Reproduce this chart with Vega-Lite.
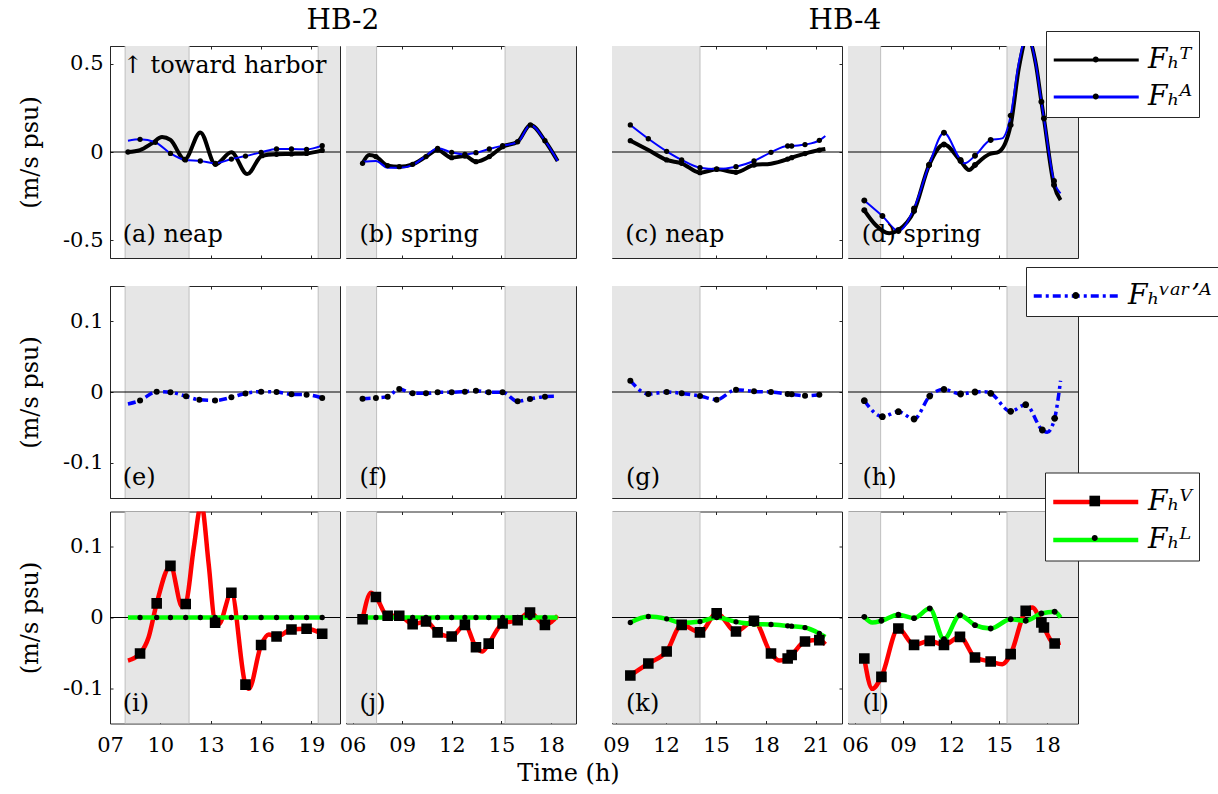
{
"$schema": "https://vega.github.io/schema/vega-lite/v6.json",
"padding": {"left": 18, "top": 6, "right": 0, "bottom": 0},
"datasets": {
"shade": [{"c":"a","t0":7.9,"t1":11.71},{"c":"a","t0":19.4,"t1":20.7},{"c":"b","t0":5.6,"t1":7.45},{"c":"b","t0":15.22,"t1":19.51},{"c":"c","t0":8.76,"t1":14.04},{"c":"d","t0":5.56,"t1":7.6},{"c":"d","t0":15.5,"t1":19.94}],
"edges": [{"c":"a","t":7.9},{"c":"a","t":11.71},{"c":"a","t":19.4},{"c":"b","t":7.45},{"c":"b","t":15.22},{"c":"c","t":14.04},{"c":"d","t":7.6},{"c":"d","t":15.5}],
"d": [
{"p":"a","s":"T","t":8.07,"v":0.0,"m":1},{"p":"a","s":"T","t":8.79,"v":0.011,"m":0},{"p":"a","s":"T","t":9.5,"v":0.049,"m":0},{"p":"a","s":"T","t":10.1,"v":0.085,"m":0},{"p":"a","s":"T","t":10.6,"v":0.068,"m":0},{"p":"a","s":"T","t":11.45,"v":-0.042,"m":1},{"p":"a","s":"T","t":12.38,"v":0.111,"m":0},{"p":"a","s":"T","t":13.28,"v":-0.07,"m":1},{"p":"a","s":"T","t":14.23,"v":-0.002,"m":0},{"p":"a","s":"T","t":15.17,"v":-0.125,"m":0},{"p":"a","s":"T","t":16.06,"v":-0.021,"m":1},{"p":"a","s":"T","t":16.92,"v":-0.013,"m":1},{"p":"a","s":"T","t":17.81,"v":-0.011,"m":1},{"p":"a","s":"T","t":18.71,"v":-0.008,"m":1},{"p":"a","s":"T","t":19.64,"v":0.009,"m":1},
{"p":"a","s":"A","t":8.07,"v":0.064,"m":0},{"p":"a","s":"A","t":8.79,"v":0.072,"m":1},{"p":"a","s":"A","t":9.7,"v":0.055,"m":1},{"p":"a","s":"A","t":10.6,"v":-0.008,"m":1},{"p":"a","s":"A","t":11.49,"v":-0.045,"m":1},{"p":"a","s":"A","t":12.38,"v":-0.051,"m":1},{"p":"a","s":"A","t":13.28,"v":-0.064,"m":1},{"p":"a","s":"A","t":14.23,"v":-0.04,"m":1},{"p":"a","s":"A","t":15.07,"v":-0.023,"m":1},{"p":"a","s":"A","t":16.0,"v":-0.002,"m":1},{"p":"a","s":"A","t":16.92,"v":0.017,"m":1},{"p":"a","s":"A","t":17.81,"v":0.017,"m":1},{"p":"a","s":"A","t":18.71,"v":0.015,"m":1},{"p":"a","s":"A","t":19.64,"v":0.036,"m":1},
{"p":"b","s":"T","t":6.6,"v":-0.064,"m":1},{"p":"b","s":"T","t":7.0,"v":-0.017,"m":0},{"p":"b","s":"T","t":7.41,"v":-0.026,"m":1},{"p":"b","s":"T","t":8.12,"v":-0.077,"m":1},{"p":"b","s":"T","t":8.82,"v":-0.083,"m":1},{"p":"b","s":"T","t":9.63,"v":-0.07,"m":1},{"p":"b","s":"T","t":10.44,"v":-0.026,"m":1},{"p":"b","s":"T","t":11.14,"v":0.011,"m":1},{"p":"b","s":"T","t":11.99,"v":-0.032,"m":1},{"p":"b","s":"T","t":12.79,"v":-0.023,"m":1},{"p":"b","s":"T","t":13.46,"v":-0.055,"m":1},{"p":"b","s":"T","t":14.27,"v":-0.026,"m":1},{"p":"b","s":"T","t":15.07,"v":0.03,"m":1},{"p":"b","s":"T","t":15.98,"v":0.058,"m":1},{"p":"b","s":"T","t":16.75,"v":0.153,"m":1},{"p":"b","s":"T","t":17.63,"v":0.064,"m":1},{"p":"b","s":"T","t":18.4,"v":-0.051,"m":0},
{"p":"b","s":"A","t":6.6,"v":-0.055,"m":0},{"p":"b","s":"A","t":7.41,"v":-0.051,"m":0},{"p":"b","s":"A","t":8.12,"v":-0.089,"m":0},{"p":"b","s":"A","t":8.82,"v":-0.089,"m":0},{"p":"b","s":"A","t":9.63,"v":-0.074,"m":0},{"p":"b","s":"A","t":10.44,"v":-0.021,"m":0},{"p":"b","s":"A","t":11.14,"v":0.021,"m":1},{"p":"b","s":"A","t":11.99,"v":-0.002,"m":1},{"p":"b","s":"A","t":12.79,"v":-0.013,"m":1},{"p":"b","s":"A","t":13.46,"v":-0.004,"m":1},{"p":"b","s":"A","t":14.27,"v":0.017,"m":1},{"p":"b","s":"A","t":15.07,"v":0.036,"m":1},{"p":"b","s":"A","t":15.98,"v":0.055,"m":0},{"p":"b","s":"A","t":16.75,"v":0.153,"m":0},{"p":"b","s":"A","t":17.63,"v":0.064,"m":0},{"p":"b","s":"A","t":18.4,"v":-0.051,"m":0},
{"p":"c","s":"T","t":9.86,"v":0.064,"m":1},{"p":"c","s":"T","t":10.94,"v":0.011,"m":0},{"p":"c","s":"T","t":12.04,"v":-0.045,"m":1},{"p":"c","s":"T","t":12.94,"v":-0.064,"m":1},{"p":"c","s":"T","t":14.04,"v":-0.117,"m":1},{"p":"c","s":"T","t":15.04,"v":-0.098,"m":1},{"p":"c","s":"T","t":16.2,"v":-0.115,"m":1},{"p":"c","s":"T","t":17.28,"v":-0.074,"m":1},{"p":"c","s":"T","t":18.3,"v":-0.066,"m":0},{"p":"c","s":"T","t":19.3,"v":-0.04,"m":1},{"p":"c","s":"T","t":19.54,"v":-0.032,"m":1},{"p":"c","s":"T","t":20.34,"v":-0.009,"m":1},{"p":"c","s":"T","t":21.2,"v":0.011,"m":1},{"p":"c","s":"T","t":21.56,"v":0.017,"m":0},
{"p":"c","s":"A","t":9.86,"v":0.153,"m":1},{"p":"c","s":"A","t":10.94,"v":0.075,"m":1},{"p":"c","s":"A","t":12.04,"v":0.004,"m":1},{"p":"c","s":"A","t":12.94,"v":-0.045,"m":1},{"p":"c","s":"A","t":14.04,"v":-0.089,"m":1},{"p":"c","s":"A","t":15.04,"v":-0.096,"m":1},{"p":"c","s":"A","t":16.2,"v":-0.083,"m":1},{"p":"c","s":"A","t":17.28,"v":-0.051,"m":1},{"p":"c","s":"A","t":18.3,"v":-0.002,"m":1},{"p":"c","s":"A","t":19.3,"v":0.034,"m":1},{"p":"c","s":"A","t":19.54,"v":0.034,"m":1},{"p":"c","s":"A","t":20.34,"v":0.042,"m":1},{"p":"c","s":"A","t":21.2,"v":0.066,"m":1},{"p":"c","s":"A","t":21.56,"v":0.091,"m":0},
{"p":"d","s":"T","t":6.58,"v":-0.33,"m":1},{"p":"d","s":"T","t":7.29,"v":-0.413,"m":0},{"p":"d","s":"T","t":8.13,"v":-0.46,"m":0},{"p":"d","s":"T","t":8.71,"v":-0.442,"m":1},{"p":"d","s":"T","t":9.69,"v":-0.334,"m":1},{"p":"d","s":"T","t":10.63,"v":-0.074,"m":1},{"p":"d","s":"T","t":11.56,"v":0.043,"m":1},{"p":"d","s":"T","t":12.6,"v":-0.051,"m":1},{"p":"d","s":"T","t":13.13,"v":-0.102,"m":0},{"p":"d","s":"T","t":13.5,"v":-0.074,"m":1},{"p":"d","s":"T","t":14.38,"v":-0.013,"m":0},{"p":"d","s":"T","t":15.0,"v":0.002,"m":0},{"p":"d","s":"T","t":15.73,"v":0.153,"m":1},{"p":"d","s":"T","t":16.25,"v":0.48,"m":0},{"p":"d","s":"T","t":16.77,"v":0.65,"m":0},{"p":"d","s":"T","t":17.3,"v":0.5,"m":0},{"p":"d","s":"T","t":17.65,"v":0.285,"m":1},{"p":"d","s":"T","t":17.81,"v":0.19,"m":1},{"p":"d","s":"T","t":18.44,"v":-0.187,"m":1},{"p":"d","s":"T","t":18.85,"v":-0.272,"m":0},
{"p":"d","s":"A","t":6.58,"v":-0.274,"m":1},{"p":"d","s":"A","t":7.71,"v":-0.362,"m":1},{"p":"d","s":"A","t":8.71,"v":-0.447,"m":1},{"p":"d","s":"A","t":9.69,"v":-0.319,"m":1},{"p":"d","s":"A","t":10.63,"v":-0.074,"m":1},{"p":"d","s":"A","t":11.56,"v":0.109,"m":1},{"p":"d","s":"A","t":12.6,"v":-0.045,"m":1},{"p":"d","s":"A","t":12.85,"v":-0.064,"m":0},{"p":"d","s":"A","t":13.5,"v":-0.021,"m":1},{"p":"d","s":"A","t":14.48,"v":0.068,"m":1},{"p":"d","s":"A","t":15.2,"v":0.077,"m":0},{"p":"d","s":"A","t":15.73,"v":0.206,"m":1},{"p":"d","s":"A","t":16.25,"v":0.51,"m":0},{"p":"d","s":"A","t":16.77,"v":0.66,"m":0},{"p":"d","s":"A","t":17.3,"v":0.5,"m":0},{"p":"d","s":"A","t":17.65,"v":0.285,"m":0},{"p":"d","s":"A","t":17.81,"v":0.19,"m":0},{"p":"d","s":"A","t":18.44,"v":-0.164,"m":1},{"p":"d","s":"A","t":18.85,"v":-0.234,"m":0},
{"p":"e","s":"varA","t":8.07,"v":-0.017,"m":0},{"p":"e","s":"varA","t":8.79,"v":-0.012,"m":1},{"p":"e","s":"varA","t":9.78,"v":0.0005,"m":1},{"p":"e","s":"varA","t":10.6,"v":-0.0005,"m":1},{"p":"e","s":"varA","t":11.53,"v":-0.006,"m":1},{"p":"e","s":"varA","t":12.32,"v":-0.011,"m":1},{"p":"e","s":"varA","t":13.26,"v":-0.012,"m":1},{"p":"e","s":"varA","t":14.23,"v":-0.0075,"m":1},{"p":"e","s":"varA","t":15.07,"v":-0.002,"m":1},{"p":"e","s":"varA","t":16.0,"v":0.0005,"m":1},{"p":"e","s":"varA","t":16.92,"v":0.0,"m":1},{"p":"e","s":"varA","t":17.81,"v":-0.0033,"m":1},{"p":"e","s":"varA","t":18.71,"v":-0.0038,"m":1},{"p":"e","s":"varA","t":19.64,"v":-0.0085,"m":1},
{"p":"f","s":"varA","t":6.6,"v":-0.0094,"m":1},{"p":"f","s":"varA","t":7.41,"v":-0.0085,"m":1},{"p":"f","s":"varA","t":8.12,"v":-0.0066,"m":1},{"p":"f","s":"varA","t":8.82,"v":0.0042,"m":1},{"p":"f","s":"varA","t":9.63,"v":-0.0019,"m":1},{"p":"f","s":"varA","t":10.44,"v":-0.0019,"m":1},{"p":"f","s":"varA","t":11.14,"v":-0.0005,"m":1},{"p":"f","s":"varA","t":11.99,"v":-0.0005,"m":1},{"p":"f","s":"varA","t":12.79,"v":0.0005,"m":1},{"p":"f","s":"varA","t":13.46,"v":0.0019,"m":1},{"p":"f","s":"varA","t":14.23,"v":-0.0005,"m":1},{"p":"f","s":"varA","t":15.07,"v":-0.0005,"m":1},{"p":"f","s":"varA","t":15.98,"v":-0.0132,"m":1},{"p":"f","s":"varA","t":16.73,"v":-0.0099,"m":1},{"p":"f","s":"varA","t":17.63,"v":-0.0066,"m":1},{"p":"f","s":"varA","t":18.2,"v":-0.0061,"m":0},
{"p":"g","s":"varA","t":9.86,"v":0.016,"m":1},{"p":"g","s":"varA","t":10.94,"v":-0.0028,"m":1},{"p":"g","s":"varA","t":12.04,"v":0.0,"m":1},{"p":"g","s":"varA","t":12.94,"v":-0.0019,"m":1},{"p":"g","s":"varA","t":14.04,"v":-0.0057,"m":1},{"p":"g","s":"varA","t":15.04,"v":-0.0108,"m":1},{"p":"g","s":"varA","t":16.2,"v":0.0033,"m":1},{"p":"g","s":"varA","t":17.28,"v":0.0009,"m":1},{"p":"g","s":"varA","t":18.3,"v":0.0,"m":1},{"p":"g","s":"varA","t":19.3,"v":-0.0028,"m":1},{"p":"g","s":"varA","t":19.54,"v":-0.0033,"m":1},{"p":"g","s":"varA","t":20.34,"v":-0.0052,"m":1},{"p":"g","s":"varA","t":21.2,"v":-0.0038,"m":1},
{"p":"h","s":"varA","t":6.58,"v":-0.0123,"m":1},{"p":"h","s":"varA","t":7.71,"v":-0.0349,"m":1},{"p":"h","s":"varA","t":8.71,"v":-0.0278,"m":1},{"p":"h","s":"varA","t":9.69,"v":-0.0382,"m":1},{"p":"h","s":"varA","t":10.67,"v":-0.0057,"m":1},{"p":"h","s":"varA","t":11.56,"v":0.0038,"m":1},{"p":"h","s":"varA","t":12.6,"v":-0.0028,"m":1},{"p":"h","s":"varA","t":13.5,"v":0.0,"m":1},{"p":"h","s":"varA","t":14.1,"v":0.0005,"m":0},{"p":"h","s":"varA","t":14.48,"v":-0.0019,"m":1},{"p":"h","s":"varA","t":15.73,"v":-0.0274,"m":1},{"p":"h","s":"varA","t":16.67,"v":-0.0179,"m":1},{"p":"h","s":"varA","t":17.71,"v":-0.0538,"m":1},{"p":"h","s":"varA","t":18.02,"v":-0.057,"m":0},{"p":"h","s":"varA","t":18.48,"v":-0.0373,"m":1},{"p":"h","s":"varA","t":18.85,"v":0.016,"m":0},
{"p":"i","s":"V","t":8.07,"v":-0.061,"m":0},{"p":"i","s":"V","t":8.79,"v":-0.051,"m":1},{"p":"i","s":"V","t":9.3,"v":-0.028,"m":0},{"p":"i","s":"V","t":9.78,"v":0.02,"m":1},{"p":"i","s":"V","t":10.6,"v":0.073,"m":1},{"p":"i","s":"V","t":11.3,"v":0.015,"m":0},{"p":"i","s":"V","t":11.51,"v":0.019,"m":1},{"p":"i","s":"V","t":11.99,"v":0.099,"m":0},{"p":"i","s":"V","t":12.44,"v":0.16,"m":0},{"p":"i","s":"V","t":12.88,"v":0.075,"m":0},{"p":"i","s":"V","t":13.26,"v":-0.0075,"m":1},{"p":"i","s":"V","t":13.48,"v":-0.0094,"m":0},{"p":"i","s":"V","t":14.23,"v":0.035,"m":1},{"p":"i","s":"V","t":15.07,"v":-0.095,"m":1},{"p":"i","s":"V","t":15.27,"v":-0.101,"m":0},{"p":"i","s":"V","t":16.0,"v":-0.039,"m":1},{"p":"i","s":"V","t":16.46,"v":-0.024,"m":0},{"p":"i","s":"V","t":16.92,"v":-0.027,"m":1},{"p":"i","s":"V","t":17.81,"v":-0.017,"m":1},{"p":"i","s":"V","t":18.71,"v":-0.016,"m":1},{"p":"i","s":"V","t":19.64,"v":-0.023,"m":1},
{"p":"i","s":"L","t":8.07,"v":0.0,"m":0},{"p":"i","s":"L","t":8.79,"v":0.0,"m":1},{"p":"i","s":"L","t":9.78,"v":0.0,"m":1},{"p":"i","s":"L","t":10.6,"v":0.0,"m":1},{"p":"i","s":"L","t":11.51,"v":0.0,"m":1},{"p":"i","s":"L","t":12.38,"v":0.0,"m":1},{"p":"i","s":"L","t":13.26,"v":0.0,"m":1},{"p":"i","s":"L","t":14.23,"v":0.0,"m":1},{"p":"i","s":"L","t":15.07,"v":0.0,"m":1},{"p":"i","s":"L","t":16.0,"v":0.0,"m":1},{"p":"i","s":"L","t":16.92,"v":0.0,"m":1},{"p":"i","s":"L","t":17.81,"v":0.0,"m":1},{"p":"i","s":"L","t":18.71,"v":0.0,"m":1},{"p":"i","s":"L","t":19.64,"v":0.0,"m":1},
{"p":"j","s":"V","t":6.6,"v":-0.0024,"m":1},{"p":"j","s":"V","t":7.11,"v":0.035,"m":0},{"p":"j","s":"V","t":7.41,"v":0.029,"m":1},{"p":"j","s":"V","t":8.12,"v":0.0024,"m":1},{"p":"j","s":"V","t":8.82,"v":0.0024,"m":1},{"p":"j","s":"V","t":9.63,"v":-0.0094,"m":1},{"p":"j","s":"V","t":10.44,"v":-0.0057,"m":1},{"p":"j","s":"V","t":11.14,"v":-0.021,"m":1},{"p":"j","s":"V","t":11.99,"v":-0.027,"m":1},{"p":"j","s":"V","t":12.79,"v":-0.0104,"m":1},{"p":"j","s":"V","t":13.46,"v":-0.042,"m":1},{"p":"j","s":"V","t":13.86,"v":-0.048,"m":0},{"p":"j","s":"V","t":14.23,"v":-0.037,"m":1},{"p":"j","s":"V","t":15.07,"v":-0.0085,"m":1},{"p":"j","s":"V","t":15.98,"v":-0.0038,"m":1},{"p":"j","s":"V","t":16.73,"v":0.0071,"m":1},{"p":"j","s":"V","t":17.63,"v":-0.0104,"m":1},{"p":"j","s":"V","t":18.4,"v":0.0024,"m":0},
{"p":"j","s":"L","t":6.6,"v":0.0,"m":1},{"p":"j","s":"L","t":7.41,"v":0.0,"m":1},{"p":"j","s":"L","t":8.12,"v":0.0,"m":1},{"p":"j","s":"L","t":8.82,"v":0.0,"m":1},{"p":"j","s":"L","t":9.63,"v":0.0,"m":1},{"p":"j","s":"L","t":10.44,"v":0.0,"m":1},{"p":"j","s":"L","t":11.14,"v":0.0,"m":1},{"p":"j","s":"L","t":11.99,"v":0.0,"m":1},{"p":"j","s":"L","t":12.79,"v":0.0,"m":1},{"p":"j","s":"L","t":13.46,"v":0.0,"m":1},{"p":"j","s":"L","t":14.23,"v":0.0,"m":1},{"p":"j","s":"L","t":15.07,"v":0.0,"m":1},{"p":"j","s":"L","t":15.98,"v":0.0,"m":1},{"p":"j","s":"L","t":16.73,"v":0.0,"m":1},{"p":"j","s":"L","t":17.63,"v":0.0,"m":1},{"p":"j","s":"L","t":18.4,"v":0.0,"m":0},
{"p":"k","s":"V","t":9.86,"v":-0.082,"m":1},{"p":"k","s":"V","t":10.94,"v":-0.065,"m":1},{"p":"k","s":"V","t":12.04,"v":-0.048,"m":1},{"p":"k","s":"V","t":12.94,"v":-0.0104,"m":1},{"p":"k","s":"V","t":14.04,"v":-0.021,"m":1},{"p":"k","s":"V","t":15.04,"v":0.0061,"m":1},{"p":"k","s":"V","t":16.2,"v":-0.0198,"m":1},{"p":"k","s":"V","t":17.28,"v":-0.0047,"m":1},{"p":"k","s":"V","t":18.3,"v":-0.051,"m":1},{"p":"k","s":"V","t":18.8,"v":-0.061,"m":0},{"p":"k","s":"V","t":19.3,"v":-0.058,"m":1},{"p":"k","s":"V","t":19.54,"v":-0.053,"m":1},{"p":"k","s":"V","t":20.34,"v":-0.034,"m":1},{"p":"k","s":"V","t":21.2,"v":-0.032,"m":1},{"p":"k","s":"V","t":21.56,"v":-0.038,"m":0},
{"p":"k","s":"L","t":9.86,"v":-0.0071,"m":1},{"p":"k","s":"L","t":10.94,"v":0.0014,"m":1},{"p":"k","s":"L","t":12.04,"v":-0.0019,"m":1},{"p":"k","s":"L","t":12.94,"v":-0.0075,"m":1},{"p":"k","s":"L","t":14.04,"v":-0.0057,"m":1},{"p":"k","s":"L","t":15.04,"v":0.0,"m":1},{"p":"k","s":"L","t":16.2,"v":-0.0061,"m":1},{"p":"k","s":"L","t":17.28,"v":-0.0094,"m":1},{"p":"k","s":"L","t":18.3,"v":-0.0099,"m":1},{"p":"k","s":"L","t":19.3,"v":-0.0118,"m":1},{"p":"k","s":"L","t":19.54,"v":-0.0123,"m":1},{"p":"k","s":"L","t":20.34,"v":-0.0142,"m":1},{"p":"k","s":"L","t":21.2,"v":-0.0226,"m":1},{"p":"k","s":"L","t":21.56,"v":-0.0274,"m":0},
{"p":"l","s":"V","t":6.58,"v":-0.058,"m":1},{"p":"l","s":"V","t":7.08,"v":-0.101,"m":0},{"p":"l","s":"V","t":7.65,"v":-0.084,"m":1},{"p":"l","s":"V","t":8.71,"v":-0.0156,"m":1},{"p":"l","s":"V","t":9.69,"v":-0.0387,"m":1},{"p":"l","s":"V","t":10.67,"v":-0.033,"m":1},{"p":"l","s":"V","t":11.56,"v":-0.0387,"m":1},{"p":"l","s":"V","t":12.56,"v":-0.0274,"m":1},{"p":"l","s":"V","t":13.5,"v":-0.0566,"m":1},{"p":"l","s":"V","t":14.48,"v":-0.0623,"m":1},{"p":"l","s":"V","t":15.21,"v":-0.066,"m":0},{"p":"l","s":"V","t":15.73,"v":-0.0519,"m":1},{"p":"l","s":"V","t":16.67,"v":0.0094,"m":1},{"p":"l","s":"V","t":17.08,"v":0.0142,"m":0},{"p":"l","s":"V","t":17.65,"v":-0.0071,"m":1},{"p":"l","s":"V","t":17.81,"v":-0.0142,"m":1},{"p":"l","s":"V","t":18.48,"v":-0.0368,"m":1},{"p":"l","s":"V","t":18.85,"v":-0.0354,"m":0},
{"p":"l","s":"L","t":6.58,"v":0.0009,"m":1},{"p":"l","s":"L","t":7.08,"v":-0.0071,"m":0},{"p":"l","s":"L","t":7.65,"v":-0.0047,"m":1},{"p":"l","s":"L","t":8.71,"v":0.0038,"m":1},{"p":"l","s":"L","t":9.69,"v":-0.0009,"m":1},{"p":"l","s":"L","t":10.67,"v":0.0127,"m":1},{"p":"l","s":"L","t":11.56,"v":-0.0307,"m":1},{"p":"l","s":"L","t":12.56,"v":0.0033,"m":1},{"p":"l","s":"L","t":13.5,"v":-0.0108,"m":1},{"p":"l","s":"L","t":14.48,"v":-0.0156,"m":1},{"p":"l","s":"L","t":15.73,"v":-0.0024,"m":1},{"p":"l","s":"L","t":16.67,"v":-0.0047,"m":1},{"p":"l","s":"L","t":17.65,"v":0.0057,"m":1},{"p":"l","s":"L","t":18.48,"v":0.008,"m":1},{"p":"l","s":"L","t":18.85,"v":0.0,"m":0}
]
},
"title": {"text": "Time (h)", "orient": "bottom", "anchor": "middle", "dx": -50, "fontSize": 24, "offset": 6},
"columns": 5,
"spacing": {"row": 13.5, "column": 6},
"bounds": "flush",
"resolve": {"scale": {"color": "independent", "shape": "independent"}, "legend": {"color": "independent", "shape": "independent"}},
"concat": [
{"width": 230, "height": 212, "title": {"text": "HB-2", "anchor": "end", "frame": "group", "align": "center", "dx": 3, "offset": 11, "fontSize": 28}, "resolve": {"axis": {"x": "independent", "y": "independent"}}, "layer": [
{"data": {"name": "shade"}, "transform": [{"filter": "datum.c=='a'"}], "mark": {"type": "rect", "color": "#e6e6e6", "clip": true}, "encoding": {"x": {"field": "t0", "type": "quantitative", "scale": {"domain": [7, 20.7], "nice": false, "zero": false}, "axis": {"orient": "bottom", "values": [7,10,13,16,19], "labels": false, "title": null}}, "x2": {"field": "t1"}}},
{"data": {"name": "edges"}, "transform": [{"filter": "datum.c=='a'"}], "mark": {"type": "rule", "color": "#bfbfbf", "strokeWidth": 1}, "encoding": {"x": {"field": "t", "type": "quantitative", "axis": null}}},
{"data": {"values": [{}]}, "mark": {"type": "rule", "color": "black", "strokeWidth": 1}, "encoding": {"y": {"datum": 0, "type": "quantitative", "scale": {"domain": [-0.6, 0.6], "nice": false, "zero": false}, "axis": {"orient": "left", "values": [-0.5, 0, 0.5], "title": "(m/s psu)", "labelExpr": "toString(datum.value)"}}}},
{"data": {"name": "d"}, "transform": [{"filter": "datum.p=='a' && datum.s=='T'"}], "mark": {"type": "line", "interpolate": "monotone", "clip": true, "color": "#000000", "strokeWidth": 4}, "encoding": {"x": {"field": "t", "type": "quantitative", "axis": {"orient": "top", "values": [7,10,13,16,19], "title": null}}, "y": {"field": "v", "type": "quantitative", "axis": {"orient": "right", "values": [-0.5, 0, 0.5], "title": null}}}},
{"data": {"name": "d"}, "transform": [{"filter": "datum.p=='a' && datum.s=='A'"}], "mark": {"type": "line", "interpolate": "monotone", "clip": true, "color": "#0000ff", "strokeWidth": 2}, "encoding": {"x": {"field": "t", "type": "quantitative", "axis": null}, "y": {"field": "v", "type": "quantitative", "axis": null}}},
{"data": {"name": "d"}, "transform": [{"filter": "datum.p=='a' && datum.m==1"}], "mark": {"type": "circle", "color": "black", "size": 28, "opacity": 1, "clip": true}, "encoding": {"x": {"field": "t", "type": "quantitative", "axis": null}, "y": {"field": "v", "type": "quantitative", "axis": null}}},
{"data": {"values": [{}]}, "mark": {"type": "text", "text": "(a) neap", "align": "left", "baseline": "middle"}, "encoding": {"x": {"datum": 7.76, "type": "quantitative", "axis": null}, "y": {"datum": -0.47, "type": "quantitative", "axis": null}}},
{"data": {"values": [{}]}, "mark": {"type": "text", "text": "↑ toward harbor", "align": "left", "baseline": "middle"}, "encoding": {"x": {"datum": 7.76, "type": "quantitative", "axis": null}, "y": {"datum": 0.489, "type": "quantitative", "axis": null}}}
]},
{"width": 230, "height": 212, "resolve": {"axis": {"x": "independent", "y": "independent"}}, "layer": [
{"data": {"name": "shade"}, "transform": [{"filter": "datum.c=='b'"}], "mark": {"type": "rect", "color": "#e6e6e6", "clip": true}, "encoding": {"x": {"field": "t0", "type": "quantitative", "scale": {"domain": [5.6, 19.51], "nice": false, "zero": false}, "axis": {"orient": "bottom", "values": [6,9,12,15,18], "labels": false, "title": null}}, "x2": {"field": "t1"}}},
{"data": {"name": "edges"}, "transform": [{"filter": "datum.c=='b'"}], "mark": {"type": "rule", "color": "#bfbfbf", "strokeWidth": 1}, "encoding": {"x": {"field": "t", "type": "quantitative", "axis": null}}},
{"data": {"values": [{}]}, "mark": {"type": "rule", "color": "black", "strokeWidth": 1}, "encoding": {"y": {"datum": 0, "type": "quantitative", "scale": {"domain": [-0.6, 0.6], "nice": false, "zero": false}, "axis": {"orient": "left", "values": [-0.5, 0, 0.5], "title": null, "labels": false}}}},
{"data": {"name": "d"}, "transform": [{"filter": "datum.p=='b' && datum.s=='T'"}], "mark": {"type": "line", "interpolate": "monotone", "clip": true, "color": "#000000", "strokeWidth": 4}, "encoding": {"x": {"field": "t", "type": "quantitative", "axis": {"orient": "top", "values": [6,9,12,15,18], "title": null}}, "y": {"field": "v", "type": "quantitative", "axis": {"orient": "right", "values": [-0.5, 0, 0.5], "title": null}}}},
{"data": {"name": "d"}, "transform": [{"filter": "datum.p=='b' && datum.s=='A'"}], "mark": {"type": "line", "interpolate": "monotone", "clip": true, "color": "#0000ff", "strokeWidth": 2}, "encoding": {"x": {"field": "t", "type": "quantitative", "axis": null}, "y": {"field": "v", "type": "quantitative", "axis": null}}},
{"data": {"name": "d"}, "transform": [{"filter": "datum.p=='b' && datum.m==1"}], "mark": {"type": "circle", "color": "black", "size": 28, "opacity": 1, "clip": true}, "encoding": {"x": {"field": "t", "type": "quantitative", "axis": null}, "y": {"field": "v", "type": "quantitative", "axis": null}}},
{"data": {"values": [{}]}, "mark": {"type": "text", "text": "(b) spring", "align": "left", "baseline": "middle"}, "encoding": {"x": {"datum": 6.41, "type": "quantitative", "axis": null}, "y": {"datum": -0.47, "type": "quantitative", "axis": null}}}
]},
{"width": 24, "height": 212, "view": {"stroke": null}, "data": {"values": []}, "mark": "point"},
{"width": 230, "height": 212, "title": {"text": "HB-4", "anchor": "end", "frame": "group", "align": "center", "dx": 3, "offset": 11, "fontSize": 28}, "resolve": {"axis": {"x": "independent", "y": "independent"}}, "layer": [
{"data": {"name": "shade"}, "transform": [{"filter": "datum.c=='c'"}], "mark": {"type": "rect", "color": "#e6e6e6", "clip": true}, "encoding": {"x": {"field": "t0", "type": "quantitative", "scale": {"domain": [8.76, 22.56], "nice": false, "zero": false}, "axis": {"orient": "bottom", "values": [9,12,15,18,21], "labels": false, "title": null}}, "x2": {"field": "t1"}}},
{"data": {"name": "edges"}, "transform": [{"filter": "datum.c=='c'"}], "mark": {"type": "rule", "color": "#bfbfbf", "strokeWidth": 1}, "encoding": {"x": {"field": "t", "type": "quantitative", "axis": null}}},
{"data": {"values": [{}]}, "mark": {"type": "rule", "color": "black", "strokeWidth": 1}, "encoding": {"y": {"datum": 0, "type": "quantitative", "scale": {"domain": [-0.6, 0.6], "nice": false, "zero": false}, "axis": {"orient": "left", "values": [-0.5, 0, 0.5], "title": null, "labels": false}}}},
{"data": {"name": "d"}, "transform": [{"filter": "datum.p=='c' && datum.s=='T'"}], "mark": {"type": "line", "interpolate": "monotone", "clip": true, "color": "#000000", "strokeWidth": 4}, "encoding": {"x": {"field": "t", "type": "quantitative", "axis": {"orient": "top", "values": [9,12,15,18,21], "title": null}}, "y": {"field": "v", "type": "quantitative", "axis": {"orient": "right", "values": [-0.5, 0, 0.5], "title": null}}}},
{"data": {"name": "d"}, "transform": [{"filter": "datum.p=='c' && datum.s=='A'"}], "mark": {"type": "line", "interpolate": "monotone", "clip": true, "color": "#0000ff", "strokeWidth": 2}, "encoding": {"x": {"field": "t", "type": "quantitative", "axis": null}, "y": {"field": "v", "type": "quantitative", "axis": null}}},
{"data": {"name": "d"}, "transform": [{"filter": "datum.p=='c' && datum.m==1"}], "mark": {"type": "circle", "color": "black", "size": 28, "opacity": 1, "clip": true}, "encoding": {"x": {"field": "t", "type": "quantitative", "axis": null}, "y": {"field": "v", "type": "quantitative", "axis": null}}},
{"data": {"values": [{}]}, "mark": {"type": "text", "text": "(c) neap", "align": "left", "baseline": "middle"}, "encoding": {"x": {"datum": 9.56, "type": "quantitative", "axis": null}, "y": {"datum": -0.47, "type": "quantitative", "axis": null}}}
]},
{"width": 230, "height": 212, "resolve": {"axis": {"x": "independent", "y": "independent"}}, "layer": [
{"data": {"name": "shade"}, "transform": [{"filter": "datum.c=='d'"}], "mark": {"type": "rect", "color": "#e6e6e6", "clip": true}, "encoding": {"x": {"field": "t0", "type": "quantitative", "scale": {"domain": [5.56, 19.94], "nice": false, "zero": false}, "axis": {"orient": "bottom", "values": [6,9,12,15,18], "labels": false, "title": null}}, "x2": {"field": "t1"}}},
{"data": {"name": "edges"}, "transform": [{"filter": "datum.c=='d'"}], "mark": {"type": "rule", "color": "#bfbfbf", "strokeWidth": 1}, "encoding": {"x": {"field": "t", "type": "quantitative", "axis": null}}},
{"data": {"values": [{}]}, "mark": {"type": "rule", "color": "black", "strokeWidth": 1}, "encoding": {"y": {"datum": 0, "type": "quantitative", "scale": {"domain": [-0.6, 0.6], "nice": false, "zero": false}, "axis": {"orient": "left", "values": [-0.5, 0, 0.5], "title": null, "labels": false}}}},
{"data": {"name": "d"}, "transform": [{"filter": "datum.p=='d' && datum.s=='T'"}], "mark": {"type": "line", "interpolate": "monotone", "clip": true, "strokeWidth": 4}, "encoding": {"x": {"field": "t", "type": "quantitative", "axis": {"orient": "top", "values": [6,9,12,15,18], "title": null}}, "y": {"field": "v", "type": "quantitative", "axis": {"orient": "right", "values": [-0.5, 0, 0.5], "title": null}},
 "color": {"field": "s", "type": "nominal", "scale": {"domain": ["T","A"], "range": ["#000000","#0000ff"]}, "legend": {"orient": "none", "legendX": 198, "legendY": -15, "title": null, "symbolType": "M-1,0H3", "labelExpr": "datum.label=='T' ? 'Fₕᵀ' : 'Fₕᴬ'", "encode": {"symbols": {"update": {"strokeWidth": {"value": 3}}}}}}}},
{"data": {"name": "d"}, "transform": [{"filter": "datum.p=='d' && datum.s=='A'"}], "mark": {"type": "line", "interpolate": "monotone", "clip": true, "strokeWidth": 2}, "encoding": {"x": {"field": "t", "type": "quantitative", "axis": null}, "y": {"field": "v", "type": "quantitative", "axis": null},
 "color": {"field": "s", "type": "nominal", "scale": {"domain": ["T","A"], "range": ["#000000","#0000ff"]}, "legend": {"orient": "none", "legendX": 198, "legendY": -15, "title": null, "symbolType": "M-1,0H3", "labelExpr": "datum.label=='T' ? 'Fₕᵀ' : 'Fₕᴬ'", "encode": {"symbols": {"update": {"strokeWidth": {"value": 3}}}}}}}},
{"data": {"name": "d"}, "transform": [{"filter": "datum.p=='d' && datum.m==1"}], "mark": {"type": "point", "filled": true, "color": "black", "size": 1806, "opacity": 1, "clip": true}, "encoding": {"x": {"field": "t", "type": "quantitative", "axis": null}, "y": {"field": "v", "type": "quantitative", "axis": null},
 "shape": {"field": "s", "type": "nominal", "scale": {"domain": ["A","T"], "range": ["M0.14,0A0.14,0.14,0,1,1,-0.14,0A0.14,0.14,0,1,1,0.14,0Z","M0.14,0A0.14,0.14,0,1,1,-0.14,0A0.14,0.14,0,1,1,0.14,0Z"]}, "legend": {"orient": "none", "legendX": 198, "legendY": -15, "title": null, "values": ["T","A"], "labelExpr": "''", "symbolOffset": 21.25, "fillColor": "transparent", "strokeColor": "transparent", "zindex": 2}}}},
{"data": {"values": [{}]}, "mark": {"type": "text", "text": "(d) spring", "align": "left", "baseline": "middle"}, "encoding": {"x": {"datum": 6.42, "type": "quantitative", "axis": null}, "y": {"datum": -0.47, "type": "quantitative", "axis": null}}}
]},
{"width": 230, "height": 1, "view": {"stroke": null}, "data": {"values": []}, "mark": "point"},
{"width": 230, "height": 1, "view": {"stroke": null}, "data": {"values": []}, "mark": "point"},
{"width": 24, "height": 1, "view": {"stroke": null}, "data": {"values": []}, "mark": "point"},
{"width": 230, "height": 1, "view": {"stroke": null}, "data": {"values": []}, "mark": "point"},
{"width": 230, "height": 1, "view": {"stroke": null}, "data": {"values": []}, "mark": "point"},
{"width": 230, "height": 212, "resolve": {"axis": {"x": "independent", "y": "independent"}}, "layer": [
{"data": {"name": "shade"}, "transform": [{"filter": "datum.c=='a'"}], "mark": {"type": "rect", "color": "#e6e6e6", "clip": true}, "encoding": {"x": {"field": "t0", "type": "quantitative", "scale": {"domain": [7, 20.7], "nice": false, "zero": false}, "axis": {"orient": "bottom", "values": [7,10,13,16,19], "labels": false, "title": null}}, "x2": {"field": "t1"}}},
{"data": {"name": "edges"}, "transform": [{"filter": "datum.c=='a'"}], "mark": {"type": "rule", "color": "#bfbfbf", "strokeWidth": 1}, "encoding": {"x": {"field": "t", "type": "quantitative", "axis": null}}},
{"data": {"values": [{}]}, "mark": {"type": "rule", "color": "black", "strokeWidth": 1}, "encoding": {"y": {"datum": 0, "type": "quantitative", "scale": {"domain": [-0.15, 0.15], "nice": false, "zero": false}, "axis": {"orient": "left", "values": [-0.1, 0, 0.1], "title": "(m/s psu)", "labelExpr": "toString(datum.value)"}}}},
{"data": {"name": "d"}, "transform": [{"filter": "datum.p=='e'"}], "mark": {"type": "line", "interpolate": "monotone", "clip": true, "color": "#0000ff", "strokeWidth": 3.5, "strokeDash": [8, 4, 3, 4]}, "encoding": {"x": {"field": "t", "type": "quantitative", "axis": {"orient": "top", "values": [7,10,13,16,19], "title": null}}, "y": {"field": "v", "type": "quantitative", "axis": {"orient": "right", "values": [-0.1, 0, 0.1], "title": null}}}},
{"data": {"name": "d"}, "transform": [{"filter": "datum.p=='e' && datum.m==1"}], "mark": {"type": "circle", "color": "black", "size": 36, "opacity": 1, "clip": true}, "encoding": {"x": {"field": "t", "type": "quantitative", "axis": null}, "y": {"field": "v", "type": "quantitative", "axis": null}}},
{"data": {"values": [{}]}, "mark": {"type": "text", "text": "(e)", "align": "left", "baseline": "middle"}, "encoding": {"x": {"datum": 7.76, "type": "quantitative", "axis": null}, "y": {"datum": -0.121, "type": "quantitative", "axis": null}}}
]},
{"width": 230, "height": 212, "resolve": {"axis": {"x": "independent", "y": "independent"}}, "layer": [
{"data": {"name": "shade"}, "transform": [{"filter": "datum.c=='b'"}], "mark": {"type": "rect", "color": "#e6e6e6", "clip": true}, "encoding": {"x": {"field": "t0", "type": "quantitative", "scale": {"domain": [5.6, 19.51], "nice": false, "zero": false}, "axis": {"orient": "bottom", "values": [6,9,12,15,18], "labels": false, "title": null}}, "x2": {"field": "t1"}}},
{"data": {"name": "edges"}, "transform": [{"filter": "datum.c=='b'"}], "mark": {"type": "rule", "color": "#bfbfbf", "strokeWidth": 1}, "encoding": {"x": {"field": "t", "type": "quantitative", "axis": null}}},
{"data": {"values": [{}]}, "mark": {"type": "rule", "color": "black", "strokeWidth": 1}, "encoding": {"y": {"datum": 0, "type": "quantitative", "scale": {"domain": [-0.15, 0.15], "nice": false, "zero": false}, "axis": {"orient": "left", "values": [-0.1, 0, 0.1], "title": null, "labels": false}}}},
{"data": {"name": "d"}, "transform": [{"filter": "datum.p=='f'"}], "mark": {"type": "line", "interpolate": "monotone", "clip": true, "color": "#0000ff", "strokeWidth": 3.5, "strokeDash": [8, 4, 3, 4]}, "encoding": {"x": {"field": "t", "type": "quantitative", "axis": {"orient": "top", "values": [6,9,12,15,18], "title": null}}, "y": {"field": "v", "type": "quantitative", "axis": {"orient": "right", "values": [-0.1, 0, 0.1], "title": null}}}},
{"data": {"name": "d"}, "transform": [{"filter": "datum.p=='f' && datum.m==1"}], "mark": {"type": "circle", "color": "black", "size": 36, "opacity": 1, "clip": true}, "encoding": {"x": {"field": "t", "type": "quantitative", "axis": null}, "y": {"field": "v", "type": "quantitative", "axis": null}}},
{"data": {"values": [{}]}, "mark": {"type": "text", "text": "(f)", "align": "left", "baseline": "middle"}, "encoding": {"x": {"datum": 6.41, "type": "quantitative", "axis": null}, "y": {"datum": -0.121, "type": "quantitative", "axis": null}}}
]},
{"width": 24, "height": 212, "view": {"stroke": null}, "data": {"values": []}, "mark": "point"},
{"width": 230, "height": 212, "resolve": {"axis": {"x": "independent", "y": "independent"}}, "layer": [
{"data": {"name": "shade"}, "transform": [{"filter": "datum.c=='c'"}], "mark": {"type": "rect", "color": "#e6e6e6", "clip": true}, "encoding": {"x": {"field": "t0", "type": "quantitative", "scale": {"domain": [8.76, 22.56], "nice": false, "zero": false}, "axis": {"orient": "bottom", "values": [9,12,15,18,21], "labels": false, "title": null}}, "x2": {"field": "t1"}}},
{"data": {"name": "edges"}, "transform": [{"filter": "datum.c=='c'"}], "mark": {"type": "rule", "color": "#bfbfbf", "strokeWidth": 1}, "encoding": {"x": {"field": "t", "type": "quantitative", "axis": null}}},
{"data": {"values": [{}]}, "mark": {"type": "rule", "color": "black", "strokeWidth": 1}, "encoding": {"y": {"datum": 0, "type": "quantitative", "scale": {"domain": [-0.15, 0.15], "nice": false, "zero": false}, "axis": {"orient": "left", "values": [-0.1, 0, 0.1], "title": null, "labels": false}}}},
{"data": {"name": "d"}, "transform": [{"filter": "datum.p=='g'"}], "mark": {"type": "line", "interpolate": "monotone", "clip": true, "color": "#0000ff", "strokeWidth": 3.5, "strokeDash": [8, 4, 3, 4]}, "encoding": {"x": {"field": "t", "type": "quantitative", "axis": {"orient": "top", "values": [9,12,15,18,21], "title": null}}, "y": {"field": "v", "type": "quantitative", "axis": {"orient": "right", "values": [-0.1, 0, 0.1], "title": null}}}},
{"data": {"name": "d"}, "transform": [{"filter": "datum.p=='g' && datum.m==1"}], "mark": {"type": "circle", "color": "black", "size": 36, "opacity": 1, "clip": true}, "encoding": {"x": {"field": "t", "type": "quantitative", "axis": null}, "y": {"field": "v", "type": "quantitative", "axis": null}}},
{"data": {"values": [{}]}, "mark": {"type": "text", "text": "(g)", "align": "left", "baseline": "middle"}, "encoding": {"x": {"datum": 9.6, "type": "quantitative", "axis": null}, "y": {"datum": -0.121, "type": "quantitative", "axis": null}}}
]},
{"width": 230, "height": 212, "resolve": {"axis": {"x": "independent", "y": "independent"}}, "layer": [
{"data": {"name": "shade"}, "transform": [{"filter": "datum.c=='d'"}], "mark": {"type": "rect", "color": "#e6e6e6", "clip": true}, "encoding": {"x": {"field": "t0", "type": "quantitative", "scale": {"domain": [5.56, 19.94], "nice": false, "zero": false}, "axis": {"orient": "bottom", "values": [6,9,12,15,18], "labels": false, "title": null}}, "x2": {"field": "t1"}}},
{"data": {"name": "edges"}, "transform": [{"filter": "datum.c=='d'"}], "mark": {"type": "rule", "color": "#bfbfbf", "strokeWidth": 1}, "encoding": {"x": {"field": "t", "type": "quantitative", "axis": null}}},
{"data": {"values": [{}]}, "mark": {"type": "rule", "color": "black", "strokeWidth": 1}, "encoding": {"y": {"datum": 0, "type": "quantitative", "scale": {"domain": [-0.15, 0.15], "nice": false, "zero": false}, "axis": {"orient": "left", "values": [-0.1, 0, 0.1], "title": null, "labels": false}}}},
{"data": {"name": "d"}, "transform": [{"filter": "datum.p=='h'"}], "mark": {"type": "line", "interpolate": "monotone", "clip": true, "strokeWidth": 3.5, "strokeDash": [8, 4, 3, 4]}, "encoding": {"x": {"field": "t", "type": "quantitative", "axis": {"orient": "top", "values": [6,9,12,15,18], "title": null}}, "y": {"field": "v", "type": "quantitative", "axis": {"orient": "right", "values": [-0.1, 0, 0.1], "title": null}},
 "color": {"field": "s", "type": "nominal", "scale": {"domain": ["varA"], "range": ["#0000ff"]}, "legend": {"orient": "none", "legendX": 178, "legendY": -19, "title": null, "symbolType": "M-1,0H3", "labelExpr": "'Fₕᵛᵃʳʼᴬ'", "encode": {"symbols": {"update": {"strokeWidth": {"value": 3.5}, "strokeDash": {"value": [8, 4, 3, 4]}}}}}}}},
{"data": {"name": "d"}, "transform": [{"filter": "datum.p=='h' && datum.m==1"}], "mark": {"type": "point", "filled": true, "color": "black", "size": 1806, "opacity": 1, "clip": true}, "encoding": {"x": {"field": "t", "type": "quantitative", "axis": null}, "y": {"field": "v", "type": "quantitative", "axis": null},
 "shape": {"field": "p", "type": "nominal", "scale": {"domain": ["h"], "range": ["M0.16,0A0.16,0.16,0,1,1,-0.16,0A0.16,0.16,0,1,1,0.16,0Z"]}, "legend": {"orient": "none", "legendX": 178, "legendY": -19, "title": null, "labelExpr": "''", "symbolOffset": 21.25, "fillColor": "transparent", "strokeColor": "transparent", "zindex": 2}}}},
{"data": {"values": [{}]}, "mark": {"type": "text", "text": "(h)", "align": "left", "baseline": "middle"}, "encoding": {"x": {"datum": 6.46, "type": "quantitative", "axis": null}, "y": {"datum": -0.121, "type": "quantitative", "axis": null}}}
]},
{"width": 230, "height": 212, "resolve": {"axis": {"x": "independent", "y": "independent"}}, "layer": [
{"data": {"name": "shade"}, "transform": [{"filter": "datum.c=='a'"}], "mark": {"type": "rect", "color": "#e6e6e6", "clip": true}, "encoding": {"x": {"field": "t0", "type": "quantitative", "scale": {"domain": [7, 20.7], "nice": false, "zero": false}, "axis": {"orient": "bottom", "values": [7,10,13,16,19], "title": null, "labelExpr": "(datum.value < 10 ? '0' : '') + datum.value"}}, "x2": {"field": "t1"}}},
{"data": {"name": "edges"}, "transform": [{"filter": "datum.c=='a'"}], "mark": {"type": "rule", "color": "#bfbfbf", "strokeWidth": 1}, "encoding": {"x": {"field": "t", "type": "quantitative", "axis": null}}},
{"data": {"values": [{}]}, "mark": {"type": "rule", "color": "black", "strokeWidth": 1}, "encoding": {"y": {"datum": 0, "type": "quantitative", "scale": {"domain": [-0.15, 0.15], "nice": false, "zero": false}, "axis": {"orient": "left", "values": [-0.1, 0, 0.1], "title": "(m/s psu)", "labelExpr": "toString(datum.value)"}}}},
{"data": {"name": "d"}, "transform": [{"filter": "datum.p=='i'"}], "mark": {"type": "line", "interpolate": "monotone", "clip": true, "strokeWidth": 4.5}, "encoding": {"x": {"field": "t", "type": "quantitative", "axis": {"orient": "top", "values": [7,10,13,16,19], "title": null}}, "y": {"field": "v", "type": "quantitative", "axis": {"orient": "right", "values": [-0.1, 0, 0.1], "title": null}}, "color": {"field": "s", "type": "nominal", "scale": {"domain": ["V","L"], "range": ["#ff0000","#00ff00"]}, "legend": null}}},
{"data": {"name": "d"}, "transform": [{"filter": "datum.p=='i' && datum.m==1 && datum.s=='V'"}], "mark": {"type": "square", "color": "black", "size": 112, "opacity": 1, "clip": true}, "encoding": {"x": {"field": "t", "type": "quantitative", "axis": null}, "y": {"field": "v", "type": "quantitative", "axis": null}}},
{"data": {"name": "d"}, "transform": [{"filter": "datum.p=='i' && datum.m==1 && datum.s=='L'"}], "mark": {"type": "circle", "color": "black", "size": 28, "opacity": 1, "clip": true}, "encoding": {"x": {"field": "t", "type": "quantitative", "axis": null}, "y": {"field": "v", "type": "quantitative", "axis": null}}},
{"data": {"values": [{}]}, "mark": {"type": "text", "text": "(i)", "align": "left", "baseline": "middle"}, "encoding": {"x": {"datum": 7.76, "type": "quantitative", "axis": null}, "y": {"datum": -0.123, "type": "quantitative", "axis": null}}}
]},
{"width": 230, "height": 212, "resolve": {"axis": {"x": "independent", "y": "independent"}}, "layer": [
{"data": {"name": "shade"}, "transform": [{"filter": "datum.c=='b'"}], "mark": {"type": "rect", "color": "#e6e6e6", "clip": true}, "encoding": {"x": {"field": "t0", "type": "quantitative", "scale": {"domain": [5.6, 19.51], "nice": false, "zero": false}, "axis": {"orient": "bottom", "values": [6,9,12,15,18], "title": null, "labelExpr": "(datum.value < 10 ? '0' : '') + datum.value"}}, "x2": {"field": "t1"}}},
{"data": {"name": "edges"}, "transform": [{"filter": "datum.c=='b'"}], "mark": {"type": "rule", "color": "#bfbfbf", "strokeWidth": 1}, "encoding": {"x": {"field": "t", "type": "quantitative", "axis": null}}},
{"data": {"values": [{}]}, "mark": {"type": "rule", "color": "black", "strokeWidth": 1}, "encoding": {"y": {"datum": 0, "type": "quantitative", "scale": {"domain": [-0.15, 0.15], "nice": false, "zero": false}, "axis": {"orient": "left", "values": [-0.1, 0, 0.1], "title": null, "labels": false}}}},
{"data": {"name": "d"}, "transform": [{"filter": "datum.p=='j'"}], "mark": {"type": "line", "interpolate": "monotone", "clip": true, "strokeWidth": 4.5}, "encoding": {"x": {"field": "t", "type": "quantitative", "axis": {"orient": "top", "values": [6,9,12,15,18], "title": null}}, "y": {"field": "v", "type": "quantitative", "axis": {"orient": "right", "values": [-0.1, 0, 0.1], "title": null}}, "color": {"field": "s", "type": "nominal", "scale": {"domain": ["V","L"], "range": ["#ff0000","#00ff00"]}, "legend": null}}},
{"data": {"name": "d"}, "transform": [{"filter": "datum.p=='j' && datum.m==1 && datum.s=='V'"}], "mark": {"type": "square", "color": "black", "size": 112, "opacity": 1, "clip": true}, "encoding": {"x": {"field": "t", "type": "quantitative", "axis": null}, "y": {"field": "v", "type": "quantitative", "axis": null}}},
{"data": {"name": "d"}, "transform": [{"filter": "datum.p=='j' && datum.m==1 && datum.s=='L'"}], "mark": {"type": "circle", "color": "black", "size": 28, "opacity": 1, "clip": true}, "encoding": {"x": {"field": "t", "type": "quantitative", "axis": null}, "y": {"field": "v", "type": "quantitative", "axis": null}}},
{"data": {"values": [{}]}, "mark": {"type": "text", "text": "(j)", "align": "left", "baseline": "middle"}, "encoding": {"x": {"datum": 6.41, "type": "quantitative", "axis": null}, "y": {"datum": -0.123, "type": "quantitative", "axis": null}}}
]},
{"width": 24, "height": 212, "view": {"stroke": null}, "data": {"values": []}, "mark": "point"},
{"width": 230, "height": 212, "resolve": {"axis": {"x": "independent", "y": "independent"}}, "layer": [
{"data": {"name": "shade"}, "transform": [{"filter": "datum.c=='c'"}], "mark": {"type": "rect", "color": "#e6e6e6", "clip": true}, "encoding": {"x": {"field": "t0", "type": "quantitative", "scale": {"domain": [8.76, 22.56], "nice": false, "zero": false}, "axis": {"orient": "bottom", "values": [9,12,15,18,21], "title": null, "labelExpr": "(datum.value < 10 ? '0' : '') + datum.value"}}, "x2": {"field": "t1"}}},
{"data": {"name": "edges"}, "transform": [{"filter": "datum.c=='c'"}], "mark": {"type": "rule", "color": "#bfbfbf", "strokeWidth": 1}, "encoding": {"x": {"field": "t", "type": "quantitative", "axis": null}}},
{"data": {"values": [{}]}, "mark": {"type": "rule", "color": "black", "strokeWidth": 1}, "encoding": {"y": {"datum": 0, "type": "quantitative", "scale": {"domain": [-0.15, 0.15], "nice": false, "zero": false}, "axis": {"orient": "left", "values": [-0.1, 0, 0.1], "title": null, "labels": false}}}},
{"data": {"name": "d"}, "transform": [{"filter": "datum.p=='k'"}], "mark": {"type": "line", "interpolate": "monotone", "clip": true, "strokeWidth": 4.5}, "encoding": {"x": {"field": "t", "type": "quantitative", "axis": {"orient": "top", "values": [9,12,15,18,21], "title": null}}, "y": {"field": "v", "type": "quantitative", "axis": {"orient": "right", "values": [-0.1, 0, 0.1], "title": null}}, "color": {"field": "s", "type": "nominal", "scale": {"domain": ["V","L"], "range": ["#ff0000","#00ff00"]}, "legend": null}}},
{"data": {"name": "d"}, "transform": [{"filter": "datum.p=='k' && datum.m==1 && datum.s=='V'"}], "mark": {"type": "square", "color": "black", "size": 112, "opacity": 1, "clip": true}, "encoding": {"x": {"field": "t", "type": "quantitative", "axis": null}, "y": {"field": "v", "type": "quantitative", "axis": null}}},
{"data": {"name": "d"}, "transform": [{"filter": "datum.p=='k' && datum.m==1 && datum.s=='L'"}], "mark": {"type": "circle", "color": "black", "size": 28, "opacity": 1, "clip": true}, "encoding": {"x": {"field": "t", "type": "quantitative", "axis": null}, "y": {"field": "v", "type": "quantitative", "axis": null}}},
{"data": {"values": [{}]}, "mark": {"type": "text", "text": "(k)", "align": "left", "baseline": "middle"}, "encoding": {"x": {"datum": 9.6, "type": "quantitative", "axis": null}, "y": {"datum": -0.123, "type": "quantitative", "axis": null}}}
]},
{"width": 230, "height": 212, "resolve": {"axis": {"x": "independent", "y": "independent"}}, "layer": [
{"data": {"name": "shade"}, "transform": [{"filter": "datum.c=='d'"}], "mark": {"type": "rect", "color": "#e6e6e6", "clip": true}, "encoding": {"x": {"field": "t0", "type": "quantitative", "scale": {"domain": [5.56, 19.94], "nice": false, "zero": false}, "axis": {"orient": "bottom", "values": [6,9,12,15,18], "title": null, "labelExpr": "(datum.value < 10 ? '0' : '') + datum.value"}}, "x2": {"field": "t1"}}},
{"data": {"name": "edges"}, "transform": [{"filter": "datum.c=='d'"}], "mark": {"type": "rule", "color": "#bfbfbf", "strokeWidth": 1}, "encoding": {"x": {"field": "t", "type": "quantitative", "axis": null}}},
{"data": {"values": [{}]}, "mark": {"type": "rule", "color": "black", "strokeWidth": 1}, "encoding": {"y": {"datum": 0, "type": "quantitative", "scale": {"domain": [-0.15, 0.15], "nice": false, "zero": false}, "axis": {"orient": "left", "values": [-0.1, 0, 0.1], "title": null, "labels": false}}}},
{"data": {"name": "d"}, "transform": [{"filter": "datum.p=='l'"}], "mark": {"type": "line", "interpolate": "monotone", "clip": true, "strokeWidth": 4.5}, "encoding": {"x": {"field": "t", "type": "quantitative", "axis": {"orient": "top", "values": [6,9,12,15,18], "title": null}}, "y": {"field": "v", "type": "quantitative", "axis": {"orient": "right", "values": [-0.1, 0, 0.1], "title": null}},
 "color": {"field": "s", "type": "nominal", "scale": {"domain": ["V","L"], "range": ["#ff0000","#00ff00"]}, "legend": {"orient": "none", "legendX": 197, "legendY": -39, "title": null, "symbolType": "M-1,0H3", "labelExpr": "datum.label=='V' ? 'Fₕⱽ' : 'Fₕᴸ'", "encode": {"symbols": {"update": {"strokeWidth": {"value": 4.5}}}}}}}},
{"data": {"name": "d"}, "transform": [{"filter": "datum.p=='l' && datum.m==1"}], "mark": {"type": "point", "filled": true, "color": "black", "size": 1806, "opacity": 1, "clip": true}, "encoding": {"x": {"field": "t", "type": "quantitative", "axis": null}, "y": {"field": "v", "type": "quantitative", "axis": null},
 "shape": {"field": "s", "type": "nominal", "scale": {"domain": ["L","V"], "range": ["M0.14,0A0.14,0.14,0,1,1,-0.14,0A0.14,0.14,0,1,1,0.14,0Z","M-0.25,-0.25H0.25V0.25H-0.25Z"]}, "legend": {"orient": "none", "legendX": 197, "legendY": -39, "title": null, "values": ["V","L"], "labelExpr": "''", "symbolOffset": 21.25, "fillColor": "transparent", "strokeColor": "transparent", "zindex": 2}}}},
{"data": {"values": [{}]}, "mark": {"type": "text", "text": "(l)", "align": "left", "baseline": "middle"}, "encoding": {"x": {"datum": 6.46, "type": "quantitative", "axis": null}, "y": {"datum": -0.123, "type": "quantitative", "axis": null}}}
]}
],
"config": {
"font": "DejaVu Serif",
"view": {"stroke": "#262626", "strokeWidth": 1},
"text": {"font": "DejaVu Serif", "fontSize": 24, "color": "black"},
"axis": {"domain": false, "grid": false, "ticks": true, "tickSize": 3, "tickColor": "#262626", "tickWidth": 1, "offset": -3, "labelFont": "DejaVu Serif", "labelFontSize": 21, "labelColor": "black", "labelFlush": false, "labelOverlap": false, "labelBound": false, "titleFont": "DejaVu Serif", "titleFontSize": 24, "titleFontWeight": "normal", "titleColor": "black"},
"axisBottom": {"labelPadding": 11},
"axisLeft": {"labelPadding": 7, "titlePadding": 20},
"axisTop": {"labels": false},
"axisRight": {"labels": false},
"legend": {"padding": 6, "rowPadding": 0, "symbolSize": 1806, "labelOffset": 50, "cornerRadius": 0, "strokeColor": "#262626", "fillColor": "white", "labelFont": "DejaVu Serif", "labelFontSize": 28, "labelFontStyle": "italic", "labelColor": "black", "symbolStrokeWidth": 2},
"title": {"font": "DejaVu Serif", "fontSize": 24, "fontWeight": "normal", "color": "black"}
}
}
